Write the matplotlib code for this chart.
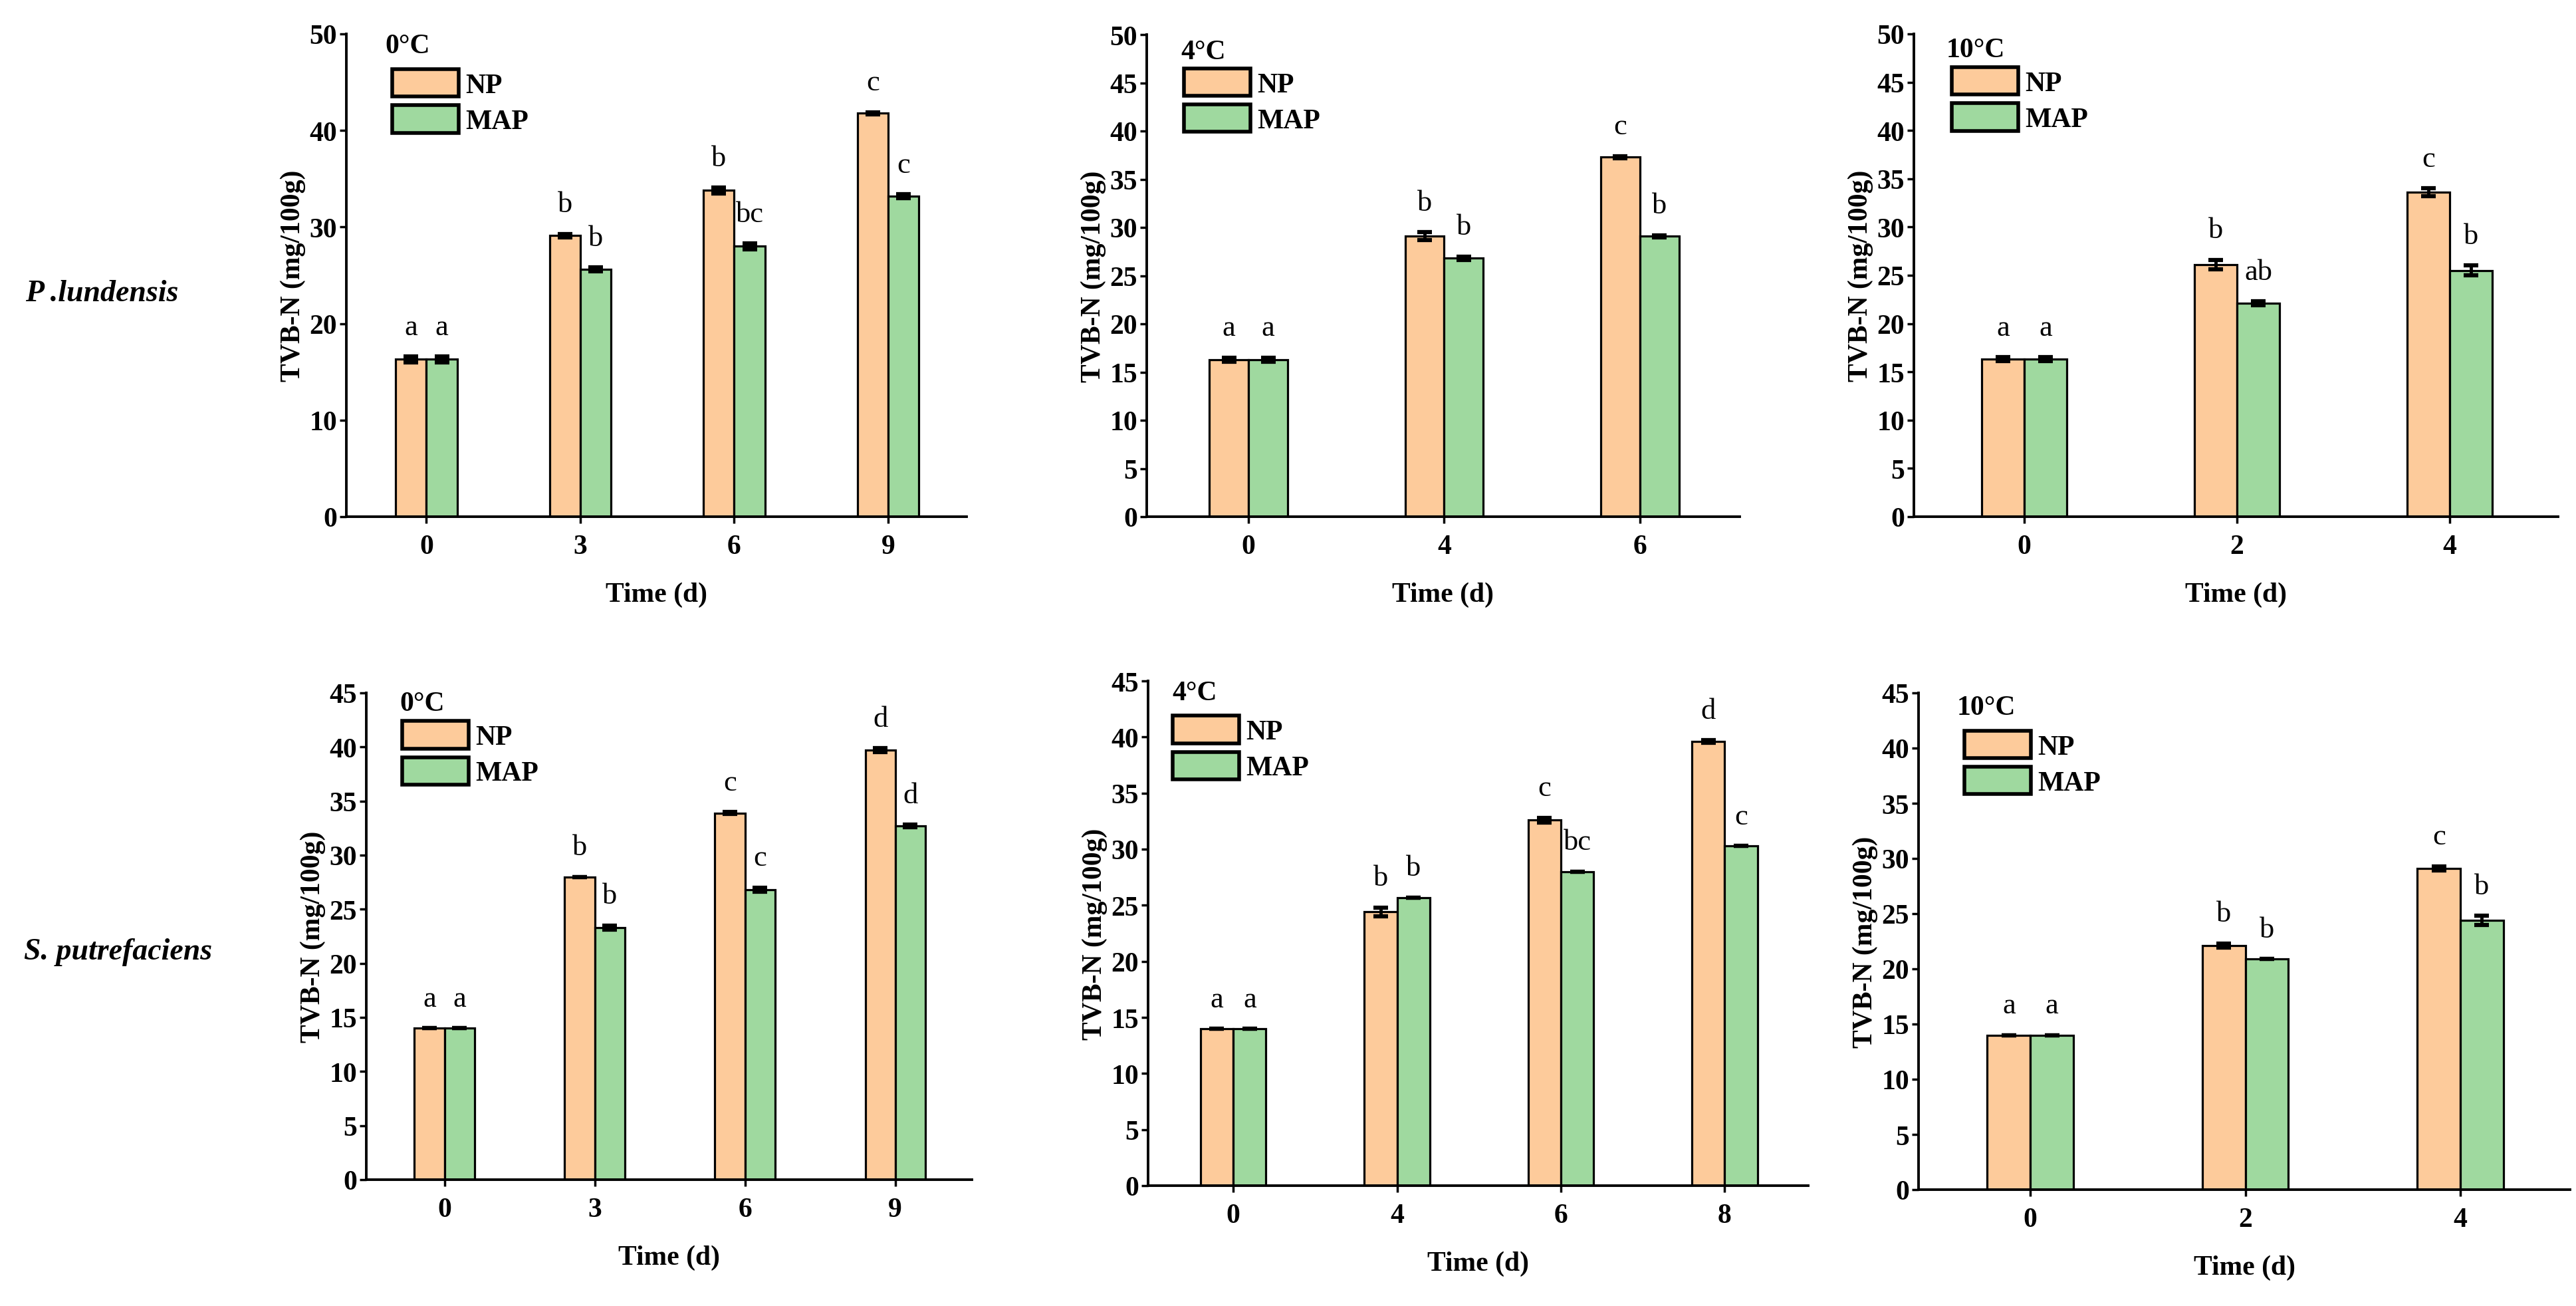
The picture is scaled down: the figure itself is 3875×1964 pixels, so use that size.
import numpy as np
import matplotlib.pyplot as plt

plt.rcParams['font.family'] = ['Liberation Serif', 'DejaVu Serif']
plt.rcParams['font.weight'] = 'bold'
plt.rcParams['axes.linewidth'] = 2.8

W, H = 3875, 1965
np_color = '#FDCB9B'
map_color = '#9FD99F'

# P. lundensis, 0 C
days_pl0 = ['0', '3', '6', '9']
np_pl0 = [16.3, 29.1, 33.8, 41.8]
np_pl0_err = [0.3, 0.2, 0.3, 0.1]
map_pl0 = [16.3, 25.6, 28.0, 33.2]
map_pl0_err = [0.3, 0.2, 0.3, 0.2]
np_pl0_sig = ['a', 'b', 'b', 'c']
map_pl0_sig = ['a', 'b', 'bc', 'c']

# P. lundensis, 4 C
days_pl4 = ['0', '4', '6']
np_pl4 = [16.3, 29.1, 37.3]
np_pl4_err = [0.2, 0.4, 0.1]
map_pl4 = [16.3, 26.8, 29.1]
map_pl4_err = [0.2, 0.2, 0.1]
np_pl4_sig = ['a', 'b', 'c']
map_pl4_sig = ['a', 'b', 'b']

# P. lundensis, 10 C
days_pl10 = ['0', '2', '4']
np_pl10 = [16.3, 26.1, 33.6]
np_pl10_err = [0.2, 0.5, 0.4]
map_pl10 = [16.3, 22.1, 25.5]
map_pl10_err = [0.2, 0.2, 0.5]
np_pl10_sig = ['a', 'b', 'c']
map_pl10_sig = ['a', 'ab', 'b']

# S. putrefaciens, 0 C
days_sp0 = ['0', '3', '6', '9']
np_sp0 = [14.0, 28.0, 33.9, 39.7]
np_sp0_err = [0.0, 0.0, 0.1, 0.2]
map_sp0 = [14.0, 23.3, 26.8, 32.7]
map_sp0_err = [0.0, 0.2, 0.2, 0.1]
np_sp0_sig = ['a', 'b', 'c', 'd']
map_sp0_sig = ['a', 'b', 'c', 'd']

# S. putrefaciens, 4 C
days_sp4 = ['0', '4', '6', '8']
np_sp4 = [14.0, 24.4, 32.6, 39.6]
np_sp4_err = [0.0, 0.4, 0.2, 0.1]
map_sp4 = [14.0, 25.7, 28.0, 30.3]
map_sp4_err = [0.0, 0.0, 0.0, 0.0]
np_sp4_sig = ['a', 'b', 'c', 'd']
map_sp4_sig = ['a', 'b', 'bc', 'c']

# S. putrefaciens, 10 C
days_sp10 = ['0', '2', '4']
np_sp10 = [14.0, 22.1, 29.1]
np_sp10_err = [0.0, 0.2, 0.2]
map_sp10 = [14.0, 20.9, 24.4]
map_sp10_err = [0.0, 0.0, 0.4]
np_sp10_sig = ['a', 'b', 'c']
map_sp10_sig = ['a', 'b', 'b']

temps = ['0°C', '4°C', '10°C', '0°C', '4°C', '10°C']
row_labels = ['P .lundensis', 'S. putrefaciens']

panels = [
    (days_pl0, np_pl0, np_pl0_err, map_pl0, map_pl0_err, np_pl0_sig, map_pl0_sig),
    (days_pl4, np_pl4, np_pl4_err, map_pl4, map_pl4_err, np_pl4_sig, map_pl4_sig),
    (days_pl10, np_pl10, np_pl10_err, map_pl10, map_pl10_err, np_pl10_sig, map_pl10_sig),
    (days_sp0, np_sp0, np_sp0_err, map_sp0, map_sp0_err, np_sp0_sig, map_sp0_sig),
    (days_sp4, np_sp4, np_sp4_err, map_sp4, map_sp4_err, np_sp4_sig, map_sp4_sig),
    (days_sp10, np_sp10, np_sp10_err, map_sp10, map_sp10_err, np_sp10_sig, map_sp10_sig),
]

# layout in pixels: left, right, top, bottom of each axes
boxes = [(521, 1454, 52, 778), (1725, 2617, 53, 778), (2879, 3848, 52, 778),
         (551, 1462, 1043, 1775), (1727, 2720, 1025, 1784), (2886, 3866, 1043, 1790)]
ymax = [50, 50, 50, 45, 45, 45]
ystep = [10, 5, 5, 5, 5, 5]
temp_pos = [(0.063, 0.975), (0.058, 0.964), (0.05, 0.967),
            (0.055, 0.978), (0.037, 0.976), (0.059, 0.97)]
leg_pos = [(0.074, 0.927), (0.063, 0.93), (0.059, 0.931),
           (0.059, 0.942), (0.037, 0.931), (0.07, 0.924)]

fig = plt.figure(figsize=(W / 100, H / 100), dpi=100)
bw = 0.2

for i, (days, npv, npe, mapv, mape, nps, maps) in enumerate(panels):
    l, r, t, b = boxes[i]
    ax = fig.add_axes([l / W, 1 - b / H, (r - l) / W, (b - t) / H])
    x = np.arange(len(days))
    ekw = dict(elinewidth=3.5, capthick=4.5, ecolor='black')
    ax.bar(x - bw / 2, npv, bw, yerr=npe, capsize=8, color=np_color,
           edgecolor='black', linewidth=2.3, error_kw=ekw, label='NP')
    ax.bar(x + bw / 2, mapv, bw, yerr=mape, capsize=8, color=map_color,
           edgecolor='black', linewidth=2.3, error_kw=ekw, label='MAP')
    for xi, v, e, s in zip(x - bw / 2, npv, npe, nps):
        ax.annotate(s, (xi, v + e), xytext=(0, 24), textcoords='offset points',
                    ha='center', va='baseline', fontsize=32, fontweight='normal')
    for xi, v, e, s in zip(x + bw / 2, mapv, mape, maps):
        ax.annotate(s, (xi, v + e), xytext=(0, 24), textcoords='offset points',
                    ha='center', va='baseline', fontsize=32, fontweight='normal')

    ax.set_xlim(-0.52, len(days) - 0.49)
    ax.set_ylim(0, ymax[i])
    ax.set_yticks(np.arange(0, ymax[i] + 1, ystep[i]))
    ax.set_xticks(x)
    ax.set_xticklabels(days)
    ax.spines['top'].set_visible(False)
    ax.spines['right'].set_visible(False)
    ax.tick_params(axis='both', labelsize=30, width=2.5, length=7)
    ax.tick_params(axis='x', pad=12)
    ax.tick_params(axis='y', pad=3)
    ax.set_xlabel('Time (d)', fontsize=30, fontweight='bold', labelpad=24)
    ax.set_ylabel('TVB-N (mg/100g)', fontsize=30, fontweight='bold', labelpad=4)

    ax.text(temp_pos[i][0], temp_pos[i][1], temps[i], transform=ax.transAxes,
            fontsize=30, fontweight='bold', ha='left', va='center')
    leg = ax.legend(loc='upper left', bbox_to_anchor=leg_pos[i], frameon=False,
                    fontsize=30, handlelength=2.4, handleheight=1.15,
                    labelspacing=0.25, handletextpad=0.25, borderpad=0,
                    borderaxespad=0)
    for p in leg.get_patches():
        p.set_linewidth(4)

fig.text(153 / W, 1 - 442 / H, row_labels[0], fontsize=33, style='italic',
         fontweight='bold', ha='center', va='center')
fig.text(178 / W, 1 - 1432 / H, row_labels[1], fontsize=33, style='italic',
         fontweight='bold', ha='center', va='center')

fig.savefig('out.png', dpi=100)
